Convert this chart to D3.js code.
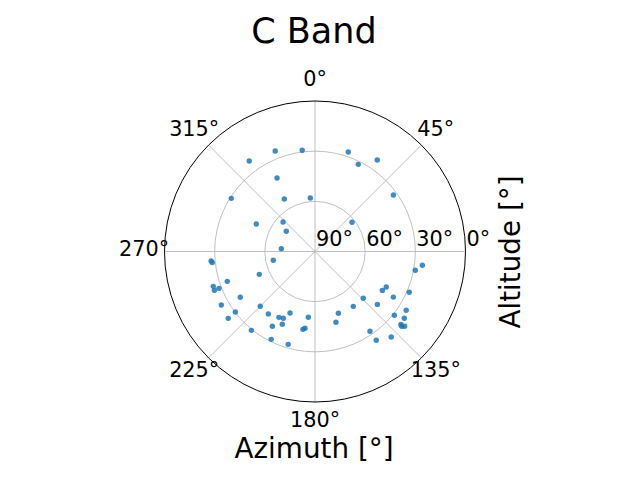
<!DOCTYPE html>
<html>
<head>
<meta charset="utf-8">
<script src="https://cdn.jsdelivr.net/npm/d3@7"></script>
<style>
  body { margin: 0; background: #fff; }
  text { font-family: "DejaVu Sans", sans-serif; fill: #000; }
</style>
</head>
<body>
<div id="chart"></div>
<script>
// azimuth (deg, clockwise from north) and altitude (deg) of each pass
var azimuth = [338.4, 352.8, 324.0, 332.7, 302.4, 329.7, 355.0, 295.1, 312.7, 305.1, 274.8,
  18.5, 34.2, 26.4, 54.2, 51.7,
  264.8, 263.9, 258.1, 247.7, 251.2, 251.1, 249.0, 248.9, 238.5, 240.3, 225.0, 232.8,
  216.8, 202.1, 208.7, 205.4, 185.8, 232.4, 204.2, 209.7, 187.4, 188.8, 218.9, 206.5, 196.1,
  97.3, 100.6, 116.5, 120.0, 113.4, 134.1, 120.2, 145.1, 130.3, 122.8, 159.3, 128.8,
  126.8, 163.5, 130.3, 130.8, 129.8, 145.4, 138.3, 145.4];
var altitude = [25.4, 29.0, 23.1, 40.5, 30.7, 53.6, 57.9, 51.2, 64.0, 69.0, 69.8,
  27.3, 23.8, 31.8, 32.2, 61.8,
  27.6, 28.2, 64.5, 54.0, 34.6, 25.7, 28.5, 25.5, 37.6, 25.5, 43.7, 30.2,
  43.4, 50.3, 45.1, 45.8, 50.5, 24.5, 42.3, 38.5, 43.7, 42.9, 29.4, 31.3, 32.2,
  25.3, 29.0, 42.4, 43.5, 28.6, 49.8, 35.8, 50.0, 41.1, 25.1, 50.5, 29.1,
  23.3, 45.9, 22.6, 21.5, 20.2, 32.1, 21.5, 25.5];

var thetaTicks = [0, 45, 90, 135, 180, 225, 270, 315];
var thetaLabels = ["0°", "45°", "", "135°", "180°", "225°", "270°", "315°"];
var rTicks = [90, 60, 30, 0];

var width = 640, height = 480;
var cx = 315, cy = 251.5, R = 150.5;

var svg = d3.select("#chart").append("svg")
    .attr("width", width)
    .attr("height", height);

var r = d3.scaleLinear().domain([90, 0]).range([0, R]);
var ang = d3.scaleLinear().domain([0, 360]).range([0, 2 * Math.PI]);

function px(az, rr) { return cx + rr * Math.sin(ang(az)); }
function py(az, rr) { return cy - rr * Math.cos(ang(az)); }

var g = svg.append("g");

// spokes
g.selectAll(".spoke")
  .data(thetaTicks)
  .enter().append("line")
    .attr("x1", cx).attr("y1", cy)
    .attr("x2", function(d) { return px(d, R); })
    .attr("y2", function(d) { return py(d, R); })
    .attr("stroke", "#b0b0b0")
    .attr("stroke-width", 0.8);

// rings
g.selectAll(".ring")
  .data([60, 30])
  .enter().append("circle")
    .attr("cx", cx).attr("cy", cy)
    .attr("r", function(d) { return r(d); })
    .attr("fill", "none")
    .attr("stroke", "#b0b0b0")
    .attr("stroke-width", 0.8);

// points
g.selectAll(".pt")
  .data(azimuth)
  .enter().append("circle")
    .attr("cx", function(d, i) { return px(d, r(altitude[i])); })
    .attr("cy", function(d, i) { return py(d, r(altitude[i])); })
    .attr("r", 2.7)
    .attr("fill", "#1f77b4")
    .attr("fill-opacity", 0.85);

// outer frame
g.append("circle")
  .attr("cx", cx).attr("cy", cy).attr("r", r(0))
  .attr("fill", "none")
  .attr("stroke", "#000")
  .attr("stroke-width", 1);

// theta labels (the 90° one is replaced by the radial labels)
var D = R + 20.35;
svg.selectAll(".tlab")
  .data(thetaTicks)
  .enter().append("text")
    .attr("x", function(d) { return px(d, D); })
    .attr("y", function(d) { return py(d, D) + 4.9; })
    .attr("text-anchor", "middle")
    .style("font-size", "20.8px")
    .text(function(d, i) { return thetaLabels[i]; });

// radial labels along the east spoke
svg.selectAll(".rlab")
  .data(rTicks)
  .enter().append("text")
    .attr("x", function(d) { return cx + r(d) + 1; })
    .attr("y", 246)
    .style("font-size", "20.8px")
    .text(function(d) { return d + "°"; });

svg.append("text")
  .attr("x", 314).attr("y", 43)
  .attr("text-anchor", "middle")
  .style("font-size", "35px")
  .text("C Band");

svg.append("text")
  .attr("x", 314).attr("y", 458)
  .attr("text-anchor", "middle")
  .style("font-size", "27.8px")
  .text("Azimuth [°]");

svg.append("text")
  .attr("transform", "translate(520,252) rotate(-90)")
  .attr("text-anchor", "middle")
  .style("font-size", "27.8px")
  .text("Altitude [°]");
</script>
</body>
</html>
